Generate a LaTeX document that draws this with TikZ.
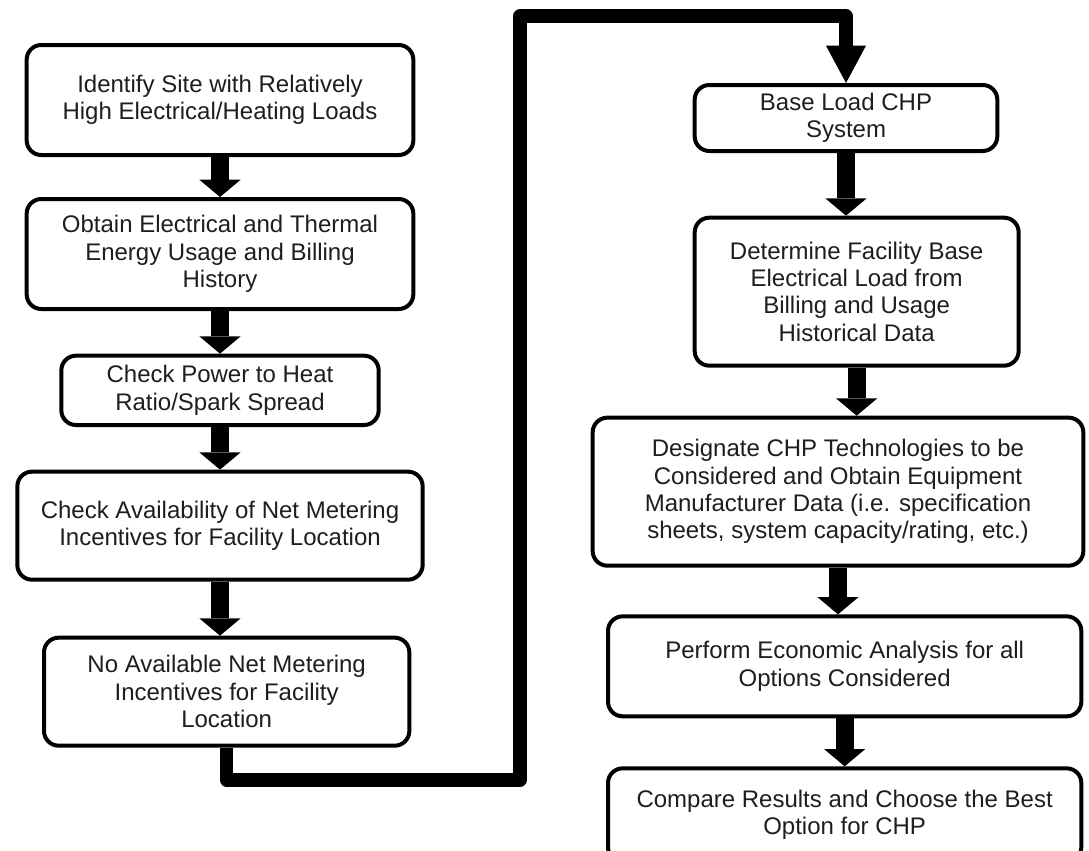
\documentclass[tikz,border=0pt]{standalone}
\usepackage{fontspec}
\setmainfont{Liberation Sans}
\usetikzlibrary{positioning,arrows.meta}
\definecolor{ink}{HTML}{1E1E1E}

\begin{document}
\begin{tikzpicture}[x=0.75pt, y=-0.75pt, font=\fontsize{18}{20.5}\selectfont,
  stepbox/.style={draw=black, line width=3pt, rounded corners=11pt, fill=white,
              align=center, text=ink, inner sep=2pt},
  flow/.style={-{Triangle[width=31pt, length=13pt, line width=0pt]}, line width=13.5pt},
  link/.style={-{Triangle[width=30pt, length=28pt, line width=0pt]}, line width=10pt, line join=round}
]
\useasboundingbox (0,0) rectangle (1089,850);
\node[stepbox, minimum width=290pt, minimum height=82.5pt] (site) at (220,100) {Identify Site with Relatively\\High Electrical/Heating Loads};
\node[stepbox, minimum width=290pt, minimum height=82.5pt, below=30pt of site] (usage) {Obtain Electrical and Thermal\\Energy Usage and Billing\\History};
\node[stepbox, minimum width=238pt, minimum height=52pt, below=32pt of usage] (ratio) {Check Power to Heat\\Ratio/Spark Spread};
\node[stepbox, minimum width=304pt, minimum height=81pt, below=32pt of ratio] (netchk) {Check Availability of Net Metering\\Incentives for Facility Location};
\node[stepbox, minimum width=274pt, minimum height=81pt, below=40.5pt of netchk, xshift=5pt] (nonet) {No Available Net Metering\\Incentives for Facility\\Location};
\node[stepbox, minimum width=227pt, minimum height=49.5pt] (base) at (846,118) {Base Load CHP\\System};
\node[stepbox, minimum width=243pt, minimum height=111pt, below=47pt of base, xshift=8pt] (baseload) {Determine Facility Base\\Electrical Load from\\Billing and Usage\\Historical Data};
\node[stepbox, minimum width=368pt, minimum height=111pt, below=36pt of baseload, xshift=-14pt] (tech) {Designate CHP Technologies to be\\Considered and Obtain Equipment\\Manufacturer Data (i.e. specification\\sheets, system capacity/rating, etc.)};
\node[stepbox, minimum width=355pt, minimum height=75pt, below=35pt of tech, xshift=5pt] (econ) {Perform Economic Analysis for all\\Options Considered};
\node[stepbox, minimum width=355pt, minimum height=70pt, below=36pt of econ] (best) {Compare Results and Choose the Best\\Option for CHP};
\coordinate (turnlow) at (520,780);
\coordinate (turnhigh) at (520,16);
\draw[flow] (site.south) -- (site.south |- usage.north);
\draw[flow] (usage.south) -- (usage.south |- ratio.north);
\draw[flow] (ratio.south) -- (ratio.south |- netchk.north);
\draw[flow] (netchk.south) -- (netchk.south |- nonet.north);
\draw[link] (nonet.south) |- (turnlow) -- (turnhigh) -| (base.north);
\draw[flow] (base.south) -- (base.south |- baseload.north);
\draw[flow] (baseload.south) -- (baseload.south |- tech.north);
\draw[flow] (tech.south) -- (tech.south |- econ.north);
\draw[flow] (econ.south) -- (econ.south |- best.north);
\end{tikzpicture}
\end{document}
